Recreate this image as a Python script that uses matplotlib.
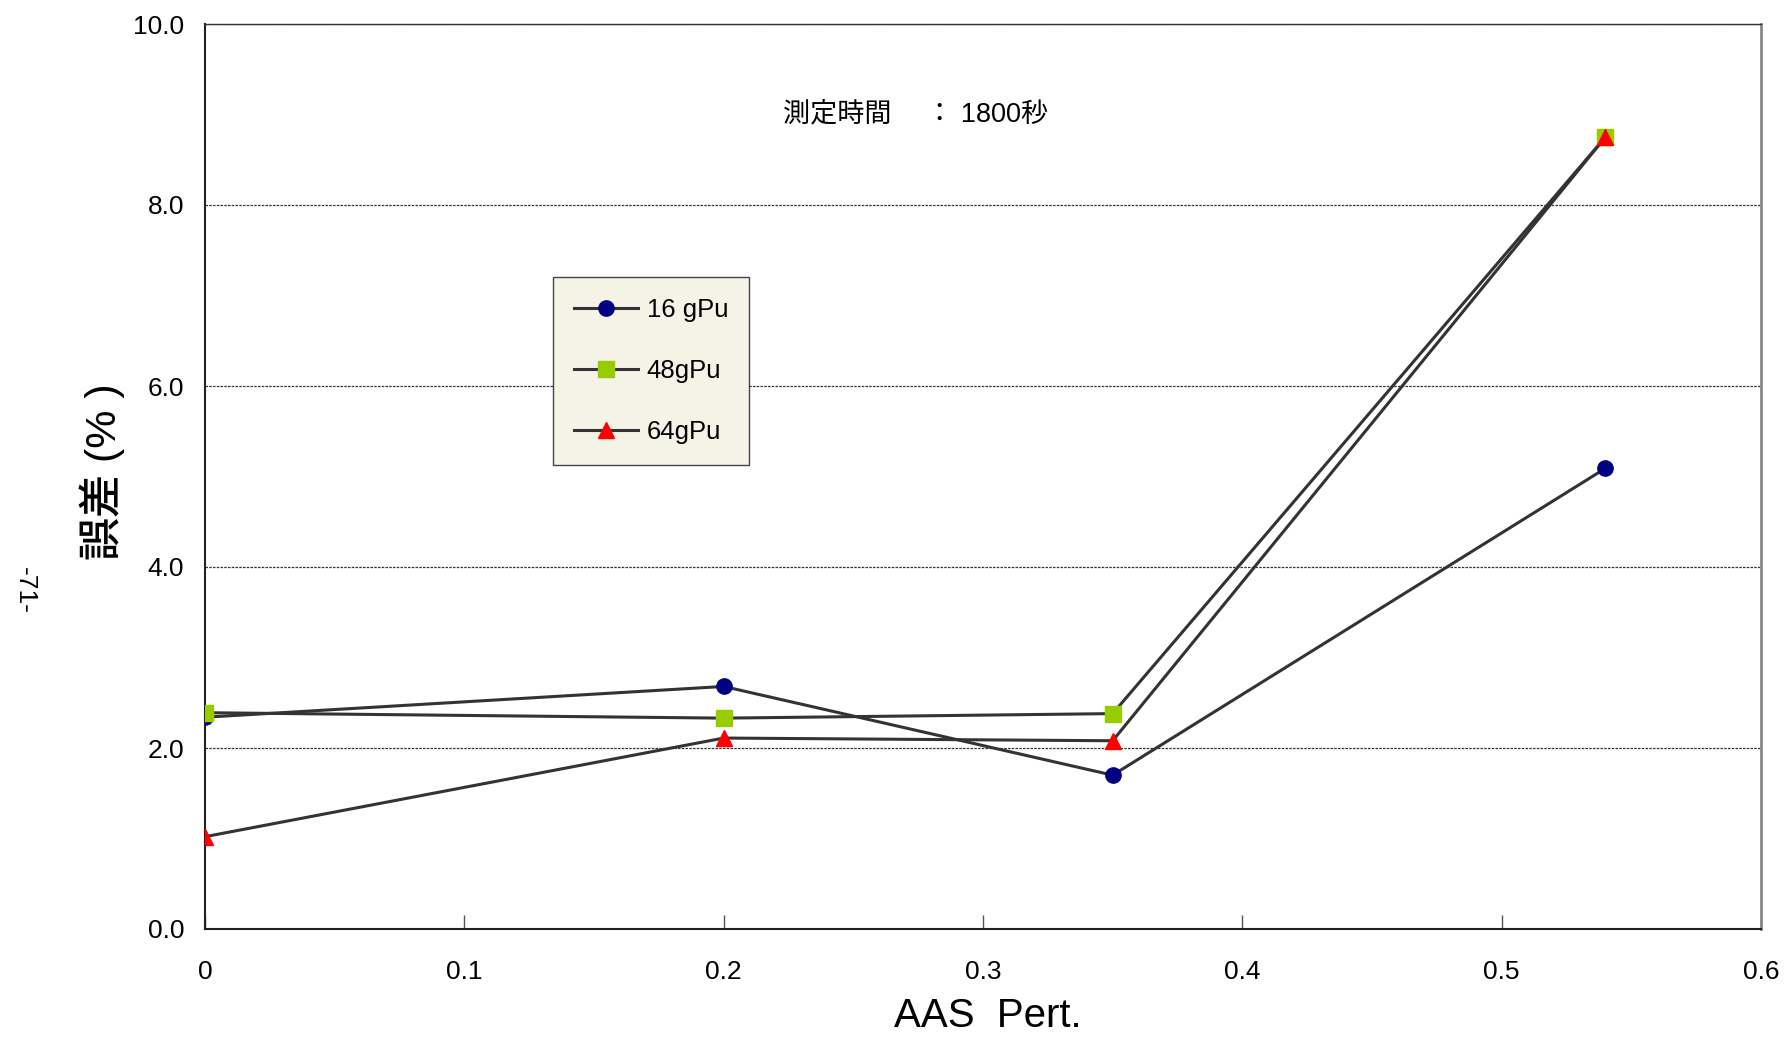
import matplotlib
matplotlib.use("Agg")
import matplotlib.pyplot as plt

plt.rcParams['font.family'] = ['Liberation Sans', 'Noto Sans CJK JP', 'DejaVu Sans']

# data
x = [0, 0.2, 0.35, 0.54]
y16 = [2.34, 2.68, 1.70, 5.09]
y48 = [2.39, 2.33, 2.38, 8.75]
y64 = [1.02, 2.11, 2.08, 8.75]
labels = ['16 gPu', '48gPu', '64gPu']

xticks = [0, 0.1, 0.2, 0.3, 0.4, 0.5, 0.6]
xticklabels = ['0', '0.1', '0.2', '0.3', '0.4', '0.5', '0.6']
yticks = [0, 2, 4, 6, 8, 10]

fig = plt.figure(figsize=(17.85, 10.37), dpi=100)
ax = fig.add_axes([205 / 1785, 1 - 929 / 1037, (1761 - 205) / 1785, (929 - 24) / 1037])

line_kw = dict(color='#333333', lw=2.2, zorder=3)
ax.plot(x, y16, marker='o', ms=11, mfc='#000080', mec='#000080', label=labels[0], **line_kw)
ax.plot(x, y48, marker='s', ms=11, mfc='#99CC00', mec='#99CC00', label=labels[1], **line_kw)
ax.plot(x, y64, marker='^', ms=12, mfc='#FF0000', mec='#FF0000', label=labels[2], **line_kw)

ax.set_xlim(0, 0.6)
ax.set_ylim(0, 10)
ax.set_xticks(xticks)
ax.set_xticklabels(xticklabels)
ax.set_yticks(yticks)
ax.set_yticklabels(['%.1f' % v for v in yticks])
ax.tick_params(axis='x', direction='in', length=10, width=1, color='#555555', pad=22, labelsize=19)
ax.tick_params(axis='y', length=0, pad=15, labelsize=19)

ax.grid(axis='y', color='#333333', ls=(0, (2, 1)), lw=0.9)
for s in ['left', 'bottom']:
    ax.spines[s].set_color('#222222')
    ax.spines[s].set_linewidth(1.5)
ax.spines['top'].set_color('#333333')
ax.spines['top'].set_linewidth(1.0)
ax.spines['right'].set_color('#888888')
ax.spines['right'].set_linewidth(2)

fig.text(988 / 1785, 1 - 1016 / 1037, 'AAS  Pert.', fontsize=29, ha='center', va='center')
fig.text(102 / 1785, 1 - 472 / 1037, '誤差 (% )', fontsize=31, fontweight='medium',
         rotation=90, ha='center', va='center')

ax.text(0.274, 9.0, '測定時間　 ： 1800秒', fontsize=19.5, ha='center', va='center')

leg = ax.legend(loc='upper left', bbox_to_anchor=((553 - 205) / 1556, (929 - 277) / 905),
                fontsize=18.5, frameon=True, fancybox=False, borderpad=0.8,
                labelspacing=1.45, handlelength=2.5, handletextpad=0.35, borderaxespad=0)
leg.get_frame().set_facecolor('#F5F2E6')
leg.get_frame().set_edgecolor('#444444')
leg.get_frame().set_alpha(1)

fig.text(25 / 1785, 1 - 590 / 1037, '-71-', fontsize=19, rotation=-90, ha='center', va='center')

fig.savefig('out.png', dpi=100)
